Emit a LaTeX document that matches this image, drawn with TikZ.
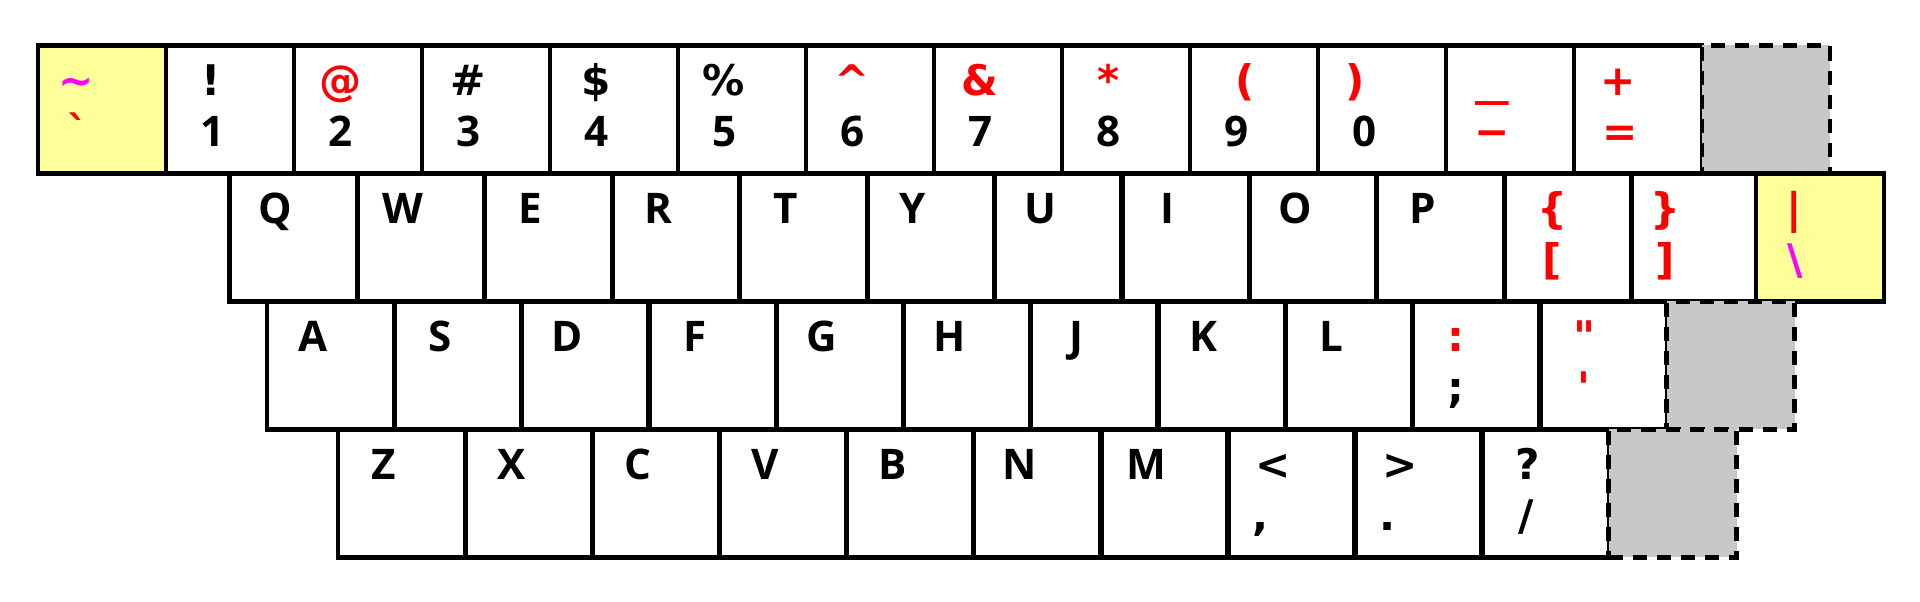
\documentclass[tikz,border=0pt]{standalone}
\usepackage{fontspec}
\usepackage{graphicx}
\setmainfont{Open Sans}
\newfontfamily\symfont{DejaVu Sans}
\usetikzlibrary{positioning, calc}
\definecolor{keyyellow}{RGB}{255,255,153}
\definecolor{keygray}{RGB}{200,200,200}
\definecolor{keyred}{RGB}{255,0,0}
\definecolor{keymagenta}{RGB}{255,0,255}

\begin{document}
\begin{tikzpicture}[x=2.56cm, y=2.56cm,
    key/.style={draw, rectangle, line width=2.6pt, anchor=north west,
        minimum width=2.56cm, minimum height=2.56cm, inner sep=0pt, outer sep=0pt},
    hotkey/.style={key, fill=keyyellow},
    spare/.style={key, fill=keygray, dash pattern=on 8pt off 5.7pt},
    glyph/.style={anchor=base, inner sep=0pt, font=\fontsize{24}{28}\selectfont\bfseries}]

            % Nền trắng và lề cố định
            \fill[white] (-0.297,0.354) rectangle (14.703,-4.346);
            \useasboundingbox (-0.297,0.354) rectangle (14.703,-4.346);

            % Hàng 1: phím số
            \node[hotkey] (a0) at (0,0) {}; % Phím ~ `
            \node[glyph, text=keymagenta] (au0) at ([shift={(0.30,-0.39)}]a0.north west) {\symfont\textasciitilde};
            \node[glyph, text=keyred] (al0) at ([shift={(0.31,-0.79)}]a0.north west) {\symfont\textasciigrave};
            \foreach \up/\low/\upc/\lowc/\ux [count=\i] in {!/1/black/black/0.35, @/2/keyred/black/0.36,
                \#/3/black/black/0.36, \$/4/black/black/0.36, \%/5/black/black/0.36,
                \textasciicircum/6/keyred/black/0.36, \&/7/keyred/black/0.36, */8/keyred/black/0.36,
                {(}/9/keyred/black/0.43, {)}/0/keyred/black/0.29,
                {\scalebox{1.6}[1]{\_}}/{\symfont −}/keyred/keyred/0.36, +/{\symfont =}/keyred/keyred/0.345}{
                \node[key] (a\i) at (\i,0) {};
                \node[glyph, text=\upc] (au\i) at ([shift={(\ux,-0.39)}]a\i.north west) {\symfont\up};
                \node[glyph, text=\lowc] (al\i) at ([shift={(0.36,-0.79)}]a\i.north west) {\low};
            }
            \node[spare] (a13) at (13,0) {}; % Phím trống

            % Hàng 2: Q ... P
            \foreach \up [count=\i from 0] in {Q,W,E,R,T,Y,U,I,O,P}{
                \node[key] (b\i) at ({1.497+\i*0.9956},-1) {};
                \node[glyph] (bu\i) at ([shift={(0.36,-0.39)}]b\i.north west) {\up};
            }
            \foreach \up/\low/\ux [count=\i from 10] in {\{/[/0.375, \}/]/0.265}{
                \node[key] (b\i) at ({1.497+\i*0.9956},-1) {};
                \node[glyph, text=keyred] (bu\i) at ([shift={(\ux,-0.39)}]b\i.north west) {\symfont\up};
                \node[glyph, text=keyred] (bl\i) at ([shift={(\ux,-0.79)}]b\i.north west) {\symfont\low};
            }
            \node[hotkey] (b12) at (13.42,-1) {}; % Phím | \
            \node[glyph, text=keyred] (bu12) at ([shift={(0.30,-0.39)}]b12.north west) {\symfont|};
            \node[glyph, text=keymagenta] (bl12) at ([shift={(0.31,-0.79)}]b12.north west) {\symfont\textbackslash};

            % Hàng 3: A ... L
            \foreach \up [count=\i from 0] in {A,S,D,F,G,H,J,K,L}{
                \node[key] (c\i) at ({1.788+\i*0.9942},-2) {};
                \node[glyph] (cu\i) at ([shift={(0.36,-0.39)}]c\i.north west) {\up};
            }
            \foreach \up/\low/\lowc/\ux [count=\i from 9] in {:/;/black/0.34, \textquotedbl/\textquotesingle/keyred/0.35}{
                \node[key] (c\i) at ({1.788+\i*0.9942},-2) {};
                \node[glyph, text=keyred] (cu\i) at ([shift={(\ux,-0.39)}]c\i.north west) {\symfont\up};
                \node[glyph, text=\lowc] (cl\i) at ([shift={(\ux,-0.79)}]c\i.north west) {\symfont\low};
            }
            \node[spare] (c11) at (12.724,-2) {}; % Phím trống

            % Hàng 4: Z ... /
            \foreach \up [count=\i from 0] in {Z,X,C,V,B,N,M}{
                \node[key] (d\i) at ({2.343+\i*0.9927},-3) {};
                \node[glyph] (du\i) at ([shift={(0.36,-0.39)}]d\i.north west) {\up};
            }
            \foreach \up/\low/\lx [count=\i from 7] in {</{,}/0.26, >/./0.26, ?/{/}/0.35}{
                \node[key] (d\i) at ({2.343+\i*0.9927},-3) {};
                \node[glyph] (du\i) at ([shift={(0.36,-0.39)}]d\i.north west) {\symfont\up};
                \node[glyph] (dl\i) at ([shift={(\lx,-0.79)}]d\i.north west) {\symfont\low};
            }
            \node[spare] (d10) at (12.27,-3) {}; % Phím trống

\end{tikzpicture}
\end{document}
